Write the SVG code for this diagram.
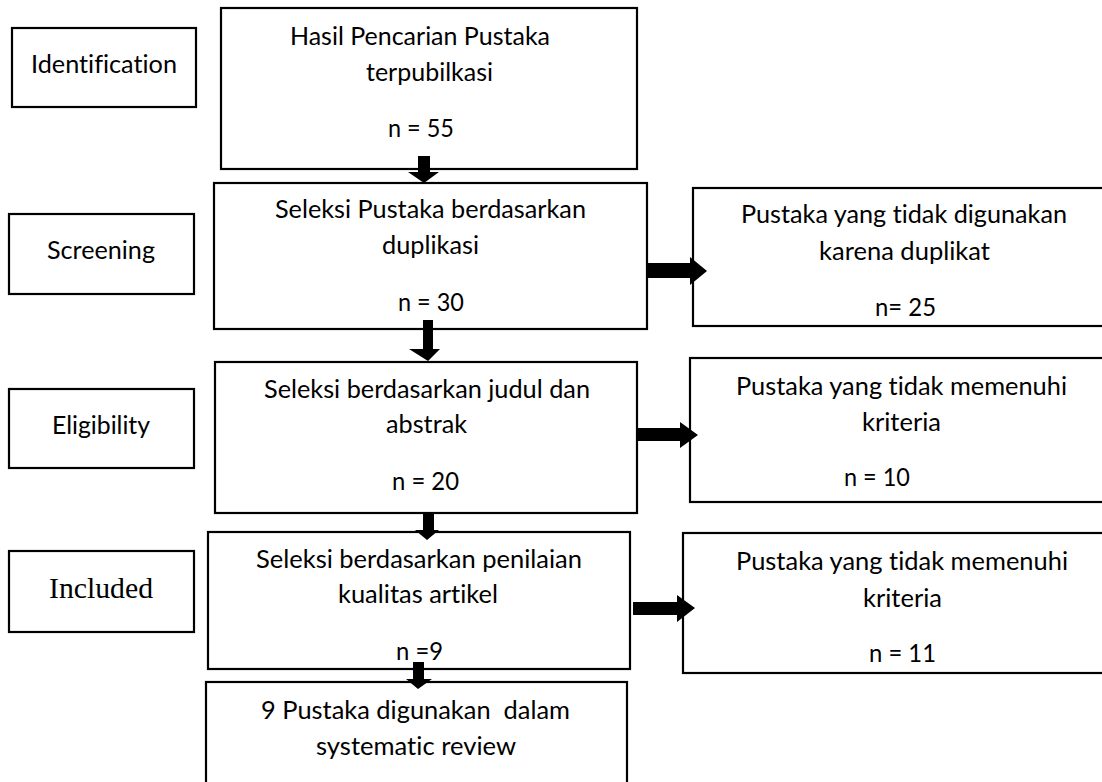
<svg xmlns="http://www.w3.org/2000/svg" width="1102" height="782" viewBox="0 0 1102 782">
<style>
.box{fill:#fff;stroke:#000;stroke-width:2.2}
.t{font-family:Lato,"Open Sans","Liberation Sans",sans-serif;font-size:24.5px;fill:#000;font-variant-ligatures:none;font-feature-settings:"liga" 0,"dlig" 0,"clig" 0}
.s{font-family:"Liberation Serif","Times New Roman",serif;font-size:29.5px;fill:#000}
.arr{fill:#000;stroke:none}
</style>
<rect width="1102" height="782" fill="#fff"/>

<g id="label-identification">
<rect class="box" x="12" y="28" width="184" height="79"/>
<text class="t" x="31" y="73" textLength="146" lengthAdjust="spacingAndGlyphs">Identification</text>
</g>
<g id="label-screening">
<rect class="box" x="9" y="214" width="185" height="80"/>
<text class="t" x="47" y="259" textLength="108" lengthAdjust="spacingAndGlyphs">Screening</text>
</g>
<g id="label-eligibility">
<rect class="box" x="9" y="389" width="185" height="79"/>
<text class="t" x="52" y="434" textLength="98" lengthAdjust="spacingAndGlyphs">Eligibility</text>
</g>
<g id="label-included">
<rect class="box" x="9" y="551" width="185" height="81"/>
<text class="s" x="49" y="598" textLength="104" lengthAdjust="spacingAndGlyphs">Included</text>
</g>

<g id="node-hasil">
<rect class="box" x="221" y="8" width="416" height="161"/>
<text class="t" x="290" y="45" textLength="260" lengthAdjust="spacingAndGlyphs">Hasil Pencarian Pustaka</text>
<text class="t" x="366" y="81" textLength="127" lengthAdjust="spacingAndGlyphs">terpubilkasi</text>
<text class="t" x="388" y="137" textLength="66" lengthAdjust="spacingAndGlyphs">n = 55</text>
</g>
<g id="node-duplikasi">
<rect class="box" x="214" y="183" width="433" height="146"/>
<text class="t" x="275" y="218" textLength="311" lengthAdjust="spacingAndGlyphs">Seleksi Pustaka berdasarkan</text>
<text class="t" x="382" y="254" textLength="97" lengthAdjust="spacingAndGlyphs">duplikasi</text>
<text class="t" x="398" y="311" textLength="66" lengthAdjust="spacingAndGlyphs">n = 30</text>
</g>
<g id="node-duplikat">
<rect class="box" x="693" y="188" width="420" height="138"/>
<text class="t" x="741" y="223" textLength="326" lengthAdjust="spacingAndGlyphs">Pustaka yang tidak digunakan</text>
<text class="t" x="819" y="260" textLength="171" lengthAdjust="spacingAndGlyphs">karena duplikat</text>
<text class="t" x="875" y="316" textLength="61" lengthAdjust="spacingAndGlyphs">n= 25</text>
</g>
<g id="node-judul">
<rect class="box" x="215" y="362" width="422" height="151"/>
<text class="t" x="264" y="398" textLength="326" lengthAdjust="spacingAndGlyphs">Seleksi berdasarkan judul dan</text>
<text class="t" x="386" y="433" textLength="81" lengthAdjust="spacingAndGlyphs">abstrak</text>
<text class="t" x="392" y="490" textLength="67" lengthAdjust="spacingAndGlyphs">n = 20</text>
</g>
<g id="node-kriteria1">
<rect class="box" x="690" y="358" width="423" height="144"/>
<text class="t" x="736" y="395" textLength="331" lengthAdjust="spacingAndGlyphs">Pustaka yang tidak memenuhi</text>
<text class="t" x="862" y="431" textLength="79" lengthAdjust="spacingAndGlyphs">kriteria</text>
<text class="t" x="844" y="486" textLength="66" lengthAdjust="spacingAndGlyphs">n = 10</text>
</g>
<g id="node-kualitas">
<rect class="box" x="208" y="532" width="422" height="137"/>
<text class="t" x="256" y="568" textLength="326" lengthAdjust="spacingAndGlyphs">Seleksi berdasarkan penilaian</text>
<text class="t" x="338" y="603" textLength="160" lengthAdjust="spacingAndGlyphs">kualitas artikel</text>
<text class="t" x="396" y="660" textLength="47" lengthAdjust="spacingAndGlyphs">n =9</text>
</g>
<g id="node-kriteria2">
<rect class="box" x="683" y="533" width="430" height="140"/>
<text class="t" x="736" y="570" textLength="332" lengthAdjust="spacingAndGlyphs">Pustaka yang tidak memenuhi</text>
<text class="t" x="863" y="607" textLength="79" lengthAdjust="spacingAndGlyphs">kriteria</text>
<text class="t" x="869" y="662" textLength="67" lengthAdjust="spacingAndGlyphs">n = 11</text>
</g>
<g id="node-final">
<rect class="box" x="206" y="682" width="421" height="110"/>
<text class="t" x="261" y="719" textLength="309" lengthAdjust="spacingAndGlyphs" style="white-space:pre">9 Pustaka digunakan  dalam</text>
<text class="t" x="316" y="755" textLength="200" lengthAdjust="spacingAndGlyphs">systematic review</text>
</g>

<g id="connectors">
<polygon class="arr" points="418,156 430,156 430,172 439,172 424,183 408,172 418,172"/>
<polygon class="arr" points="423,320 433,320 433,349 440,349 428,361 409,349 423,349"/>
<polygon class="arr" points="423,513 434,513 434,530 439,530 427,540 415,530 423,530"/>
<polygon class="arr" points="413,662 424,662 424,679 432,679 418,689 406,679 413,679"/>
<polygon class="arr" points="647,263 690,263 690,257 707,271 690,285 690,278 647,278"/>
<polygon class="arr" points="637,428 680,428 680,422 698,435 680,448 680,441 637,441"/>
<polygon class="arr" points="633,602 677,602 677,595 695,608 677,622 677,615 633,615"/>
</g>
</svg>
